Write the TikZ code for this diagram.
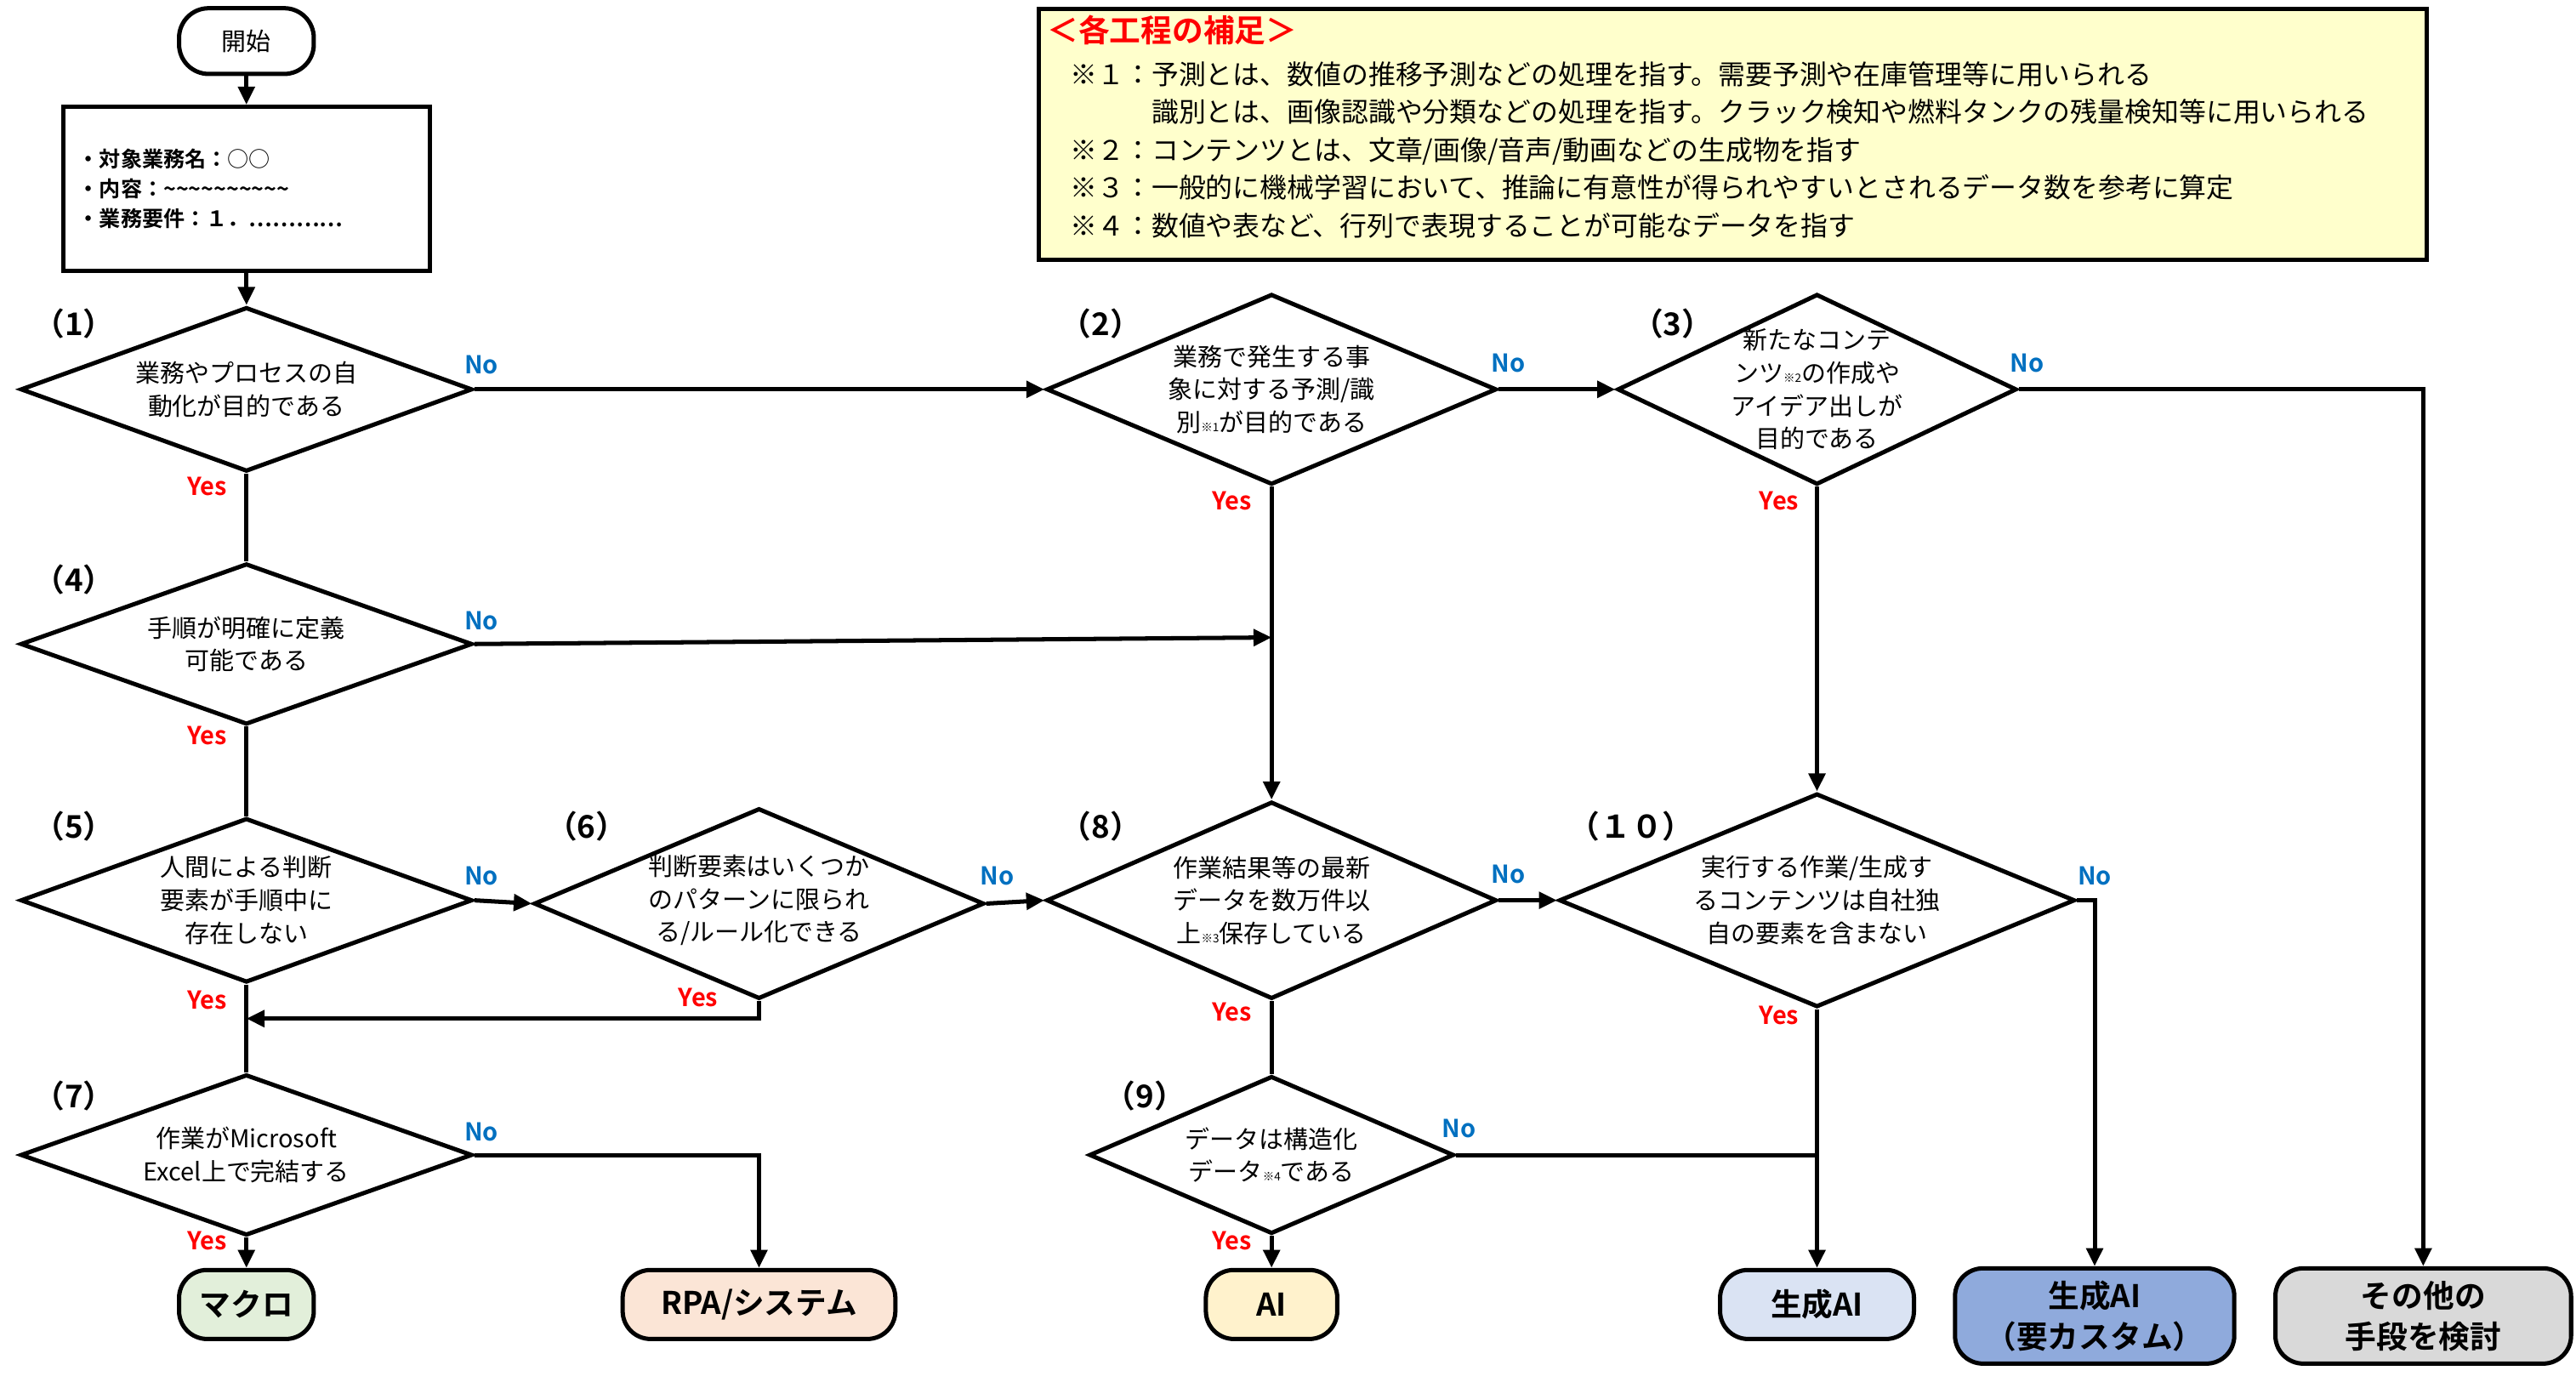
\documentclass[tikz,border=0pt]{standalone}
\usepackage{fontspec}
\setmainfont{Noto Sans CJK JP}[BoldFont={Noto Sans CJK JP Bold}]
\usetikzlibrary{shapes.geometric,arrows.meta}
\definecolor{noblue}{HTML}{0070C0}
\definecolor{yesred}{HTML}{FF0000}
\tikzset{
  dia/.style={diamond,draw,line width=2.6pt,inner sep=0pt,fill=white},
  dtext/.style={align=center,font=\fontsize{15}{20}\selectfont},
  term/.style={draw,line width=2.6pt,rounded corners=17pt,align=center,font=\bfseries\fontsize{19}{22}\selectfont},
  conn/.style={line width=2.6pt},
  arr/.style={line width=2.6pt,-{Triangle[length=11pt,width=10pt]}},
  nolab/.style={text=noblue,font=\bfseries\fontsize{15}{16}\selectfont},
  yeslab/.style={text=yesred,font=\bfseries\fontsize{15}{16}\selectfont},
  steplab/.style={font=\bfseries\fontsize{19}{20}\selectfont},
  sm/.style={}
}
\newcommand{\kome}[1]{{\fontsize{7}{7}\selectfont ※#1}}
\begin{document}
\begin{tikzpicture}[x=1pt,y=-1pt]
\useasboundingbox (0,0) rectangle (1568,841);
% notes
\node[draw,line width=2.6pt,fill={rgb,255:red,255;green,255;blue,204},minimum width=845,minimum height=153,anchor=north west,inner sep=0] (notes) at (631,4) {};
\node[anchor=north west,text=yesred,font=\bfseries\fontsize{19}{22}\selectfont] (ntitle) at (634,6) {＜各工程の補足＞};
\node[anchor=north west,align=left,font=\fontsize{16.5}{23}\selectfont] (ntext) at (648,34) {%
※１：予測とは、数値の推移予測などの処理を指す。需要予測や在庫管理等に用いられる\\
\phantom{※１：}識別とは、画像認識や分類などの処理を指す。クラック検知や燃料タンクの残量検知等に用いられる\\
※２：コンテンツとは、文章/画像/音声/動画などの生成物を指す\\
※３：一般的に機械学習において、推論に有意性が得られやすいとされるデータ数を参考に算定\\
※４：数値や表など、行列で表現することが可能なデータを指す};
% start and info
\node[draw,line width=2.6pt,rounded corners=18pt,minimum width=82,minimum height=40,font=\fontsize{15}{18}\selectfont] (start) at (150,25) {開始};
\node[draw,line width=2.6pt,minimum width=223,minimum height=100,inner sep=0] (info) at (150,115) {};
\node[anchor=west,align=left,font=\bfseries\fontsize{13}{18}\selectfont] (infot) at (44,115) {・対象業務名：{\mdseries ○○}\\・内容：\textasciitilde\textasciitilde\textasciitilde\textasciitilde\textasciitilde\textasciitilde\textasciitilde\textasciitilde\textasciitilde\textasciitilde\\・業務要件：１．…………};
% diamonds
\node[dia,minimum width=275,minimum height=100] (d1) at (150,237) {};
\node[dia,minimum width=274,minimum height=116] (d2) at (774,237) {};
\node[dia,minimum width=243,minimum height=116] (d3) at (1106,237) {};
\node[dia,minimum width=275,minimum height=98] (d4) at (150,392) {};
\node[dia,minimum width=275,minimum height=100] (d5) at (150,548) {};
\node[dia,minimum width=274,minimum height=116] (d6) at (462,550) {};
\node[dia,minimum width=274,minimum height=120] (d8) at (774,548) {};
\node[dia,minimum width=314,minimum height=130] (d10) at (1106,548) {};
\node[dia,minimum width=275,minimum height=98] (d7) at (150,703) {};
\node[dia,minimum width=222,minimum height=96] (d9) at (774,703) {};
\node[dtext] (t1) at (150,237) {業務やプロセスの自\\動化が目的である};
\node[dtext] (t2) at (774,237) {業務で発生する事\\象に対する予測/識\\別\kome{1}が目的である};
\node[dtext] (t3) at (1106,237) {新たなコンテ\\ンツ\kome{2}の作成や\\アイデア出しが\\目的である};
\node[dtext] (t4) at (150,392) {手順が明確に定義\\可能である};
\node[dtext] (t5) at (150,548) {人間による判断\\要素が手順中に\\存在しない};
\node[dtext] (t6) at (462,548) {判断要素はいくつか\\のパターンに限られ\\る/ルール化できる};
\node[dtext] (t8) at (774,548) {作業結果等の最新\\データを数万件以\\上\kome{3}保存している};
\node[dtext] (t10) at (1106,548) {実行する作業/生成す\\るコンテンツは自社独\\自の要素を含まない};
\node[dtext] (t7) at (150,703) {作業がMicrosoft\\Excel上で完結する};
\node[dtext] (t9) at (774,703) {データは構造化\\データ\kome{4}である};
% step labels
\node[steplab] (s1) at (45,197) {（1）};
\node[steplab] (s2) at (670,197) {（2）};
\node[steplab] (s3) at (1018,197) {（3）};
\node[steplab] (s4) at (45,353) {（4）};
\node[steplab] (s5) at (45,503) {（5）};
\node[steplab] (s6) at (357,503) {（6）};
\node[steplab] (s8) at (670,503) {（8）};
\node[steplab] (s10) at (993,503) {（１０）};
\node[steplab] (s7) at (45,667) {（7）};
\node[steplab] (s9) at (697,667) {（9）};
% terminals
\node[term,fill={rgb,255:red,226;green,239;blue,218},minimum width=82,minimum height=42] (macro) at (150,794) {マクロ};
\node[term,fill={rgb,255:red,251;green,229;blue,214},minimum width=166,minimum height=42] (rpa) at (462,794) {RPA/システム};
\node[term,fill={rgb,255:red,255;green,242;blue,204},minimum width=80,minimum height=42] (ai) at (774,794) {AI};
\node[term,fill={rgb,255:red,218;green,227;blue,243},minimum width=118,minimum height=42] (gai) at (1106,794) {生成AI};
\node[term,fill={rgb,255:red,143;green,170;blue,220},minimum width=170,minimum height=58,font=\bfseries\fontsize{19}{25}\selectfont] (gaic) at (1275,801) {生成AI\\（要カスタム）};
\node[term,fill={rgb,255:red,217;green,217;blue,217},minimum width=180,minimum height=58,font=\bfseries\fontsize{19}{25}\selectfont] (other) at (1475,801) {その他の\\手段を検討};
% coordinates
\coordinate (c3) at (1475,237);
\coordinate (c4) at (774,388);
\coordinate (c6a) at (462,620);
\coordinate (c6b) at (150,620);
\coordinate (c7) at (462,703);
\coordinate (c9) at (1106,703);
\coordinate (c10) at (1275,548);
% connectors
\draw[arr] (start) -- (info);
\draw[arr] (info) -- (d1.north);
\draw[arr] (d1.east) -- (d2.west);
\draw[arr] (d2.east) -- (d3.west);
\draw[arr] (d3.east) -- (c3) -- (other.north);
\draw[conn] (d1.south) -- (d4.north);
\draw[arr] (d4.east) -- (c4);
\draw[arr] (d2.south) -- (d8.north);
\draw[arr] (d3.south) -- (d10.north);
\draw[conn] (d4.south) -- (d5.north);
\draw[arr] (d5.east) -- (d6.west);
\draw[arr] (d6.east) -- (d8.west);
\draw[arr] (d8.east) -- (d10.west);
\draw[arr] (d6.south) -- (c6a) -- (c6b);
\draw[conn] (d5.south) -- (d7.north);
\draw[arr] (d7.east) -- (c7) -- (rpa.north);
\draw[arr] (d7.south) -- (macro.north);
\draw[conn] (d8.south) -- (d9.north);
\draw[arr] (d9.south) -- (ai.north);
\draw[conn] (d9.east) -- (c9);
\draw[arr] (d10.south) -- (gai.north);
\draw[arr] (d10.east) -- (c10) -- (gaic.north);
% yes/no labels
\node[nolab] (n1) at (293,222) {No};
\node[nolab] (n2) at (918,221) {No};
\node[nolab] (n3) at (1234,221) {No};
\node[nolab] (n4) at (293,378) {No};
\node[nolab] (n5) at (293,533) {No};
\node[nolab] (n6) at (607,533) {No};
\node[nolab] (n8) at (918,532) {No};
\node[nolab] (n10) at (1275,533) {No};
\node[nolab] (n7) at (293,689) {No};
\node[nolab] (n9) at (888,687) {No};
\node[yeslab] (y1) at (126,296) {Yes};
\node[yeslab] (y2) at (750,305) {Yes};
\node[yeslab] (y3) at (1083,305) {Yes};
\node[yeslab] (y4) at (126,448) {Yes};
\node[yeslab] (y5) at (126,609) {Yes};
\node[yeslab] (y6) at (425,607) {Yes};
\node[yeslab] (y8) at (750,616) {Yes};
\node[yeslab] (y10) at (1083,618) {Yes};
\node[yeslab] (y7) at (126,755) {Yes};
\node[yeslab] (y9) at (750,755) {Yes};
\end{tikzpicture}
\end{document}
